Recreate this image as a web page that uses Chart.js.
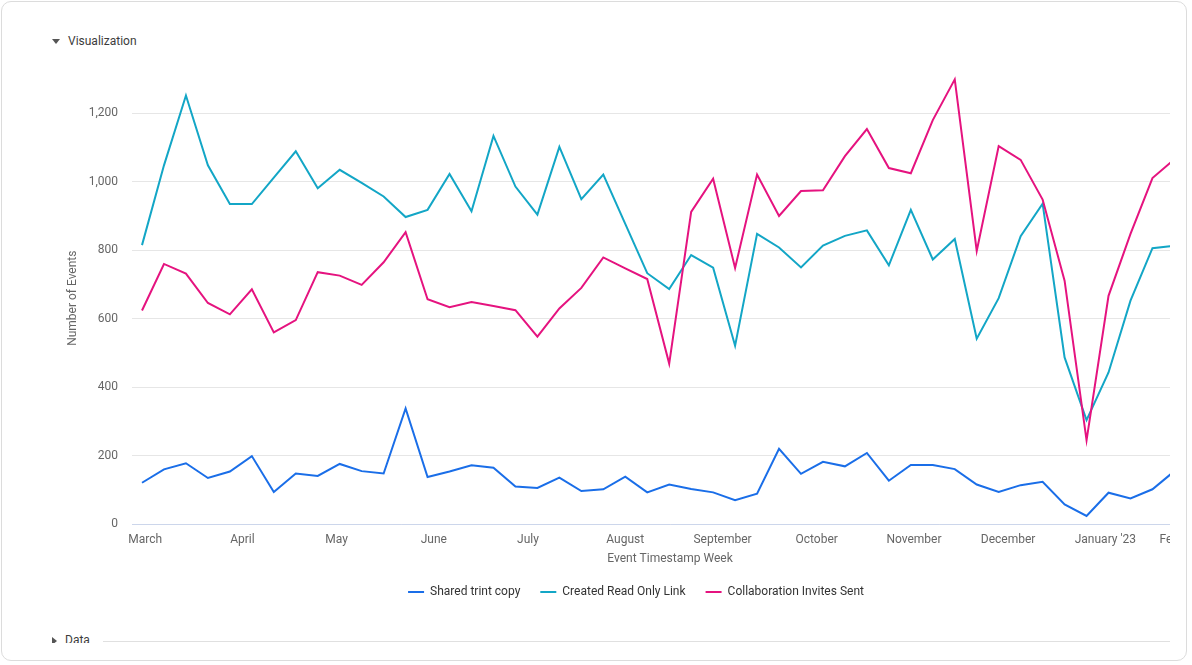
<!DOCTYPE html>
<html>
<head>
<meta charset="utf-8">
<script src="https://cdn.jsdelivr.net/npm/chart.js@4/dist/chart.umd.min.js"></script>
<style>
  html, body { margin: 0; padding: 0; background: #fff; }
  body { width: 1192px; height: 665px; position: relative; overflow: hidden; font-family: Roboto, sans-serif; }
  .card {
    position: absolute; left: 1px; top: 1px; width: 1186px; height: 660px;
    border: 1px solid #dcdcdc; border-radius: 10px; box-sizing: border-box;
  }
  .section { position: absolute; left: 52px; font-size: 12px; color: #3c3c3c; line-height: 14px; }
  .section .tri { display: inline-block; width: 0; height: 0; margin-right: 8px; vertical-align: middle; }
  .down { border-left: 4px solid transparent; border-right: 4px solid transparent; border-top: 5px solid #555; }
  .right { border-top: 4px solid transparent; border-bottom: 4px solid transparent; border-left: 5px solid #555; }
  .clip { position: absolute; left: 0; top: 51px; width: 1170px; height: 574px; overflow: hidden; }
  .wrap { position: absolute; left: 0; top: 0; width: 1268px; height: 557px; }
  .bottom-clip { position: absolute; left: 0; top: 625px; width: 1170px; height: 18px; overflow: hidden; }
  .rule { position: absolute; left: 103px; top: 16px; width: 1067px; height: 1px; background: #e0e0e0; }
</style>
</head>
<body>
<div class="card"></div>
<div class="section" style="top:34px"><span class="tri down"></span>Visualization</div>
<div class="clip">
  <div class="wrap"><canvas id="chart"></canvas></div>
</div>
<div class="bottom-clip">
  <div class="section" style="top:8px;left:52px"><span class="tri right"></span>Data</div>
  <div class="rule"></div>
</div>

<script>
const weeks = [
  "2022-02-28", "2022-03-07", "2022-03-14", "2022-03-21", "2022-03-28", "2022-04-04",
  "2022-04-11", "2022-04-18", "2022-04-25", "2022-05-02", "2022-05-09", "2022-05-16",
  "2022-05-23", "2022-05-30", "2022-06-06", "2022-06-13", "2022-06-20", "2022-06-27",
  "2022-07-04", "2022-07-11", "2022-07-18", "2022-07-25", "2022-08-01", "2022-08-08",
  "2022-08-15", "2022-08-22", "2022-08-29", "2022-09-05", "2022-09-12", "2022-09-19",
  "2022-09-26", "2022-10-03", "2022-10-10", "2022-10-17", "2022-10-24", "2022-10-31",
  "2022-11-07", "2022-11-14", "2022-11-21", "2022-11-28", "2022-12-05", "2022-12-12",
  "2022-12-19", "2022-12-26", "2023-01-02", "2023-01-09", "2023-01-16", "2023-01-23",
];

const sharedCopy = [
  121, 160, 178, 135, 154, 199, 94, 148, 141, 176, 155, 148, 338, 138, 154,
  172, 165, 110, 106, 136, 97, 102, 139, 93, 116, 103, 93, 70, 89, 220, 147,
  182, 169, 208, 127, 173, 173, 161, 116, 94, 114, 124, 58, 24, 92, 75, 102, 155,
];

const readOnlyLink = [
  815, 1048, 1252, 1048, 935, 935, 1012, 1089, 981, 1035, 997, 957, 897, 918, 1023,
  914, 1134, 986, 904, 1102, 949, 1021, 877, 733, 687, 786, 749, 521, 848, 808, 750,
  814, 842, 858, 756, 918, 773, 833, 542, 660, 841, 936, 487, 304, 443, 653, 806, 813,
];

const invitesSent = [
  624, 760, 732, 646, 613, 686, 560, 596, 736, 726, 699, 765, 853, 657, 634,
  649, 637, 625, 548, 630, 690, 779, 747, 716, 469, 912, 1009, 748, 1021, 900, 973,
  975, 1075, 1154, 1040, 1025, 1180, 1299, 798, 1104, 1064, 948, 711, 245, 667, 848, 1011, 1066,
];

const monthTicks = [
  "2022-03-01", "2022-04-01", "2022-05-01", "2022-06-01", "2022-07-01", "2022-08-01",
  "2022-09-01", "2022-10-01", "2022-11-01", "2022-12-01", "2023-01-01", "2023-02-01",
];
const monthLabels = [
  "March", "April", "May", "June", "July", "August",
  "September", "October", "November", "December", "January '23", "February",
];

const DAY = 86400000;
const t = (s) => Date.parse(s);

function points(values) {
  return values.map((v, i) => ({ x: t(weeks[i]), y: v }));
}

Chart.defaults.font.family = "Roboto, sans-serif";
Chart.defaults.font.size = 12;
Chart.defaults.color = "#666666";

const datasets = [
  { label: "Shared trint copy", data: points(sharedCopy), borderColor: "#1a6ee8", order: 2 },
  { label: "Created Read Only Link", data: points(readOnlyLink), borderColor: "#13a6c6", order: 1 },
  { label: "Collaboration Invites Sent", data: points(invitesSent), borderColor: "#e5137f", order: 0 },
].map((d) => ({
  ...d,
  backgroundColor: d.borderColor,
  borderWidth: 2,
  pointRadius: 0,
  pointHoverRadius: 0,
  pointStyle: "line",
  tension: 0,
}));

new Chart(document.getElementById("chart"), {
  type: "line",
  data: { datasets },
  options: {
    responsive: true,
    maintainAspectRatio: false,
    animation: false,
    layout: { padding: { top: 0, right: 60, left: 64, bottom: 0 } },
    scales: {
      x: {
        type: "linear",
        min: t(weeks[0]) - 3.19 * DAY,
        max: t(weeks[0]) + 339.7 * DAY,
        grid: { display: false },
        border: { color: "#ccd6eb", width: 1 },
        afterBuildTicks: (scale) => {
          scale.ticks = monthTicks.map((m) => ({ value: t(m) }));
        },
        ticks: {
          autoSkip: false,
          maxRotation: 0,
          padding: 1,
          color: "#666666",
          callback: (v, i, ticks) => {
            const label = monthLabels[monthTicks.findIndex((m) => t(m) === v)];
            // keep the last label inside the chart edge, like the original
            return i === ticks.length - 1 ? label + "\u2003\u2003\u2003 " : label;
          },
        },
        title: {
          display: true,
          text: "Event Timestamp Week",
          color: "#666666",
          padding: { top: 3, bottom: 0 },
        },
      },
      y: {
        min: 0,
        max: 1320,
        grid: { color: "#e6e6e6", drawTicks: false },
        border: { display: false },
        afterFit: (scale) => {
          scale.width = 68;
        },
        ticks: {
          stepSize: 200,
          includeBounds: false,
          padding: 14,
          color: "#666666",
          callback: (v) => v.toLocaleString("en-US"),
        },
        title: {
          display: true,
          text: "Number of Events",
          color: "#666666",
          padding: { top: 2, bottom: 0 },
        },
      },
    },
    plugins: {
      tooltip: { enabled: false },
      legend: {
        position: "bottom",
        labels: {
          usePointStyle: true,
          pointStyleWidth: 16,
          padding: 20,
          color: "#333333",
          sort: (a, b) => a.datasetIndex - b.datasetIndex,
        },
      },
    },
  },
});
</script>
</body>
</html>
